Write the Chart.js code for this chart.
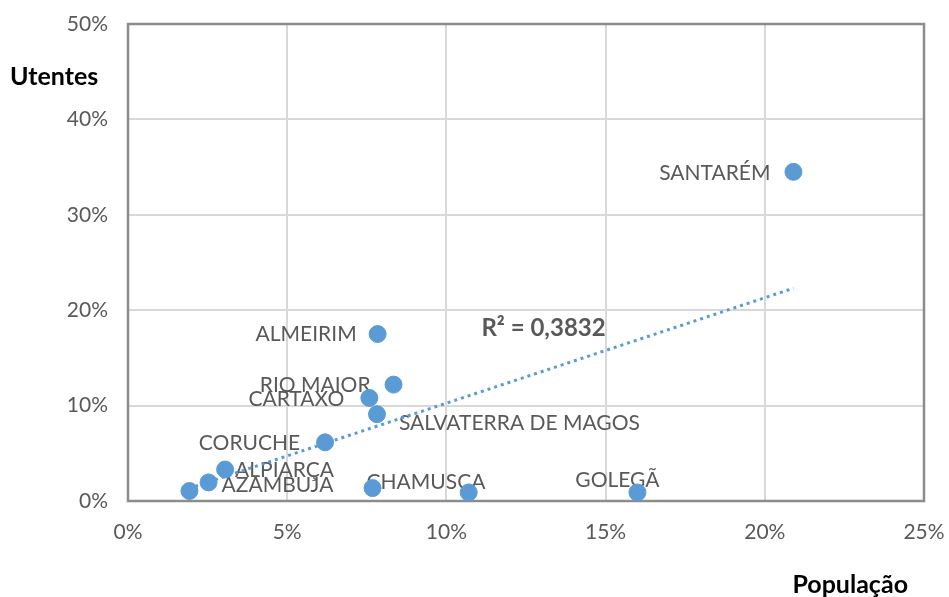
<!DOCTYPE html>
<html>
<head>
<meta charset="utf-8">
<script src="https://cdn.jsdelivr.net/npm/chart.js@4"></script>
<style>
  html, body { margin: 0; padding: 0; background: #fff; }
  #wrap { width: 949px; height: 597px; }
</style>
</head>
<body>
<div id="wrap"><canvas id="c" width="949" height="597"></canvas></div>
<script>
// ---- data (percent values) ----
const municipalities = ['SANTARÉM', 'ALMEIRIM', 'RIO MAIOR', 'CARTAXO', 'SALVATERRA DE MAGOS', 'CORUCHE', 'ALPIARÇA', 'AZAMBUJA', '', 'CHAMUSCA', '', 'GOLEGÃ'];
const populationPct = [20.9, 7.84, 8.34, 7.58, 7.82, 6.19, 3.05, 2.53, 1.93, 7.68, 10.70, 16.0];
const utentesPct = [34.5, 17.5, 12.2, 10.8, 9.1, 6.15, 3.3, 1.95, 1.05, 1.35, 0.9, 0.9];
const trendX = [1.9, 20.9];
const trendY = [1.3, 22.3];
const xTicks = [0, 5, 10, 15, 20, 25];
const yTicks = [0, 10, 20, 30, 40, 50];
const r2Text = 'R² = 0,3832';
const r2Pos = { x: 13.05, y: 18.1 };

// ---- label placement (style, not data) ----
const labelPlacement = {
  'SANTARÉM': { align: 'right', dx: -23, dy: 1 },
  'ALMEIRIM': { align: 'right', dx: -21, dy: 0 },
  'RIO MAIOR': { align: 'right', dx: -23, dy: 1 },
  'CARTAXO': { align: 'right', dx: -25, dy: 1 },
  'SALVATERRA DE MAGOS': { align: 'left', dx: 22, dy: 9 },
  'CORUCHE': { align: 'right', dx: -25, dy: 1 },
  'ALPIARÇA': { align: 'left', dx: 10, dy: 1 },
  'AZAMBUJA': { align: 'left', dx: 13, dy: 3 },
  'CHAMUSCA': { align: 'left', dx: -6, dy: -6 },
  'GOLEGÃ': { align: 'center', dx: -20, dy: -12 }
};

const FONT = 'Lato, "Open Sans", sans-serif';
const points = populationPct.map((x, i) => ({ x: x, y: utentesPct[i] }));
const trend = trendX.map((x, i) => ({ x: x, y: trendY[i] }));

const decorPlugin = {
  id: 'decor',
  beforeDatasetsDraw(chart) {
    const ctx = chart.ctx, a = chart.chartArea;
    ctx.save();
    ctx.strokeStyle = '#8c8c8c';
    ctx.lineWidth = 2.5;
    ctx.strokeRect(a.left, a.top, a.right - a.left, a.bottom - a.top);
    // point labels
    const meta = chart.getDatasetMeta(0);
    ctx.font = '21px ' + FONT;
    ctx.fillStyle = '#595959';
    ctx.textBaseline = 'middle';
    municipalities.forEach((name, i) => {
      const p = labelPlacement[name];
      if (!name || !p) return;
      const el = meta.data[i];
      ctx.textAlign = p.align;
      ctx.fillText(name, el.x + p.dx, el.y + p.dy);
    });
    // R² annotation
    const xs = chart.scales.x, ys = chart.scales.y;
    ctx.font = 'bold 24px ' + FONT;
    ctx.textAlign = 'center';
    ctx.fillText(r2Text, xs.getPixelForValue(r2Pos.x), ys.getPixelForValue(r2Pos.y));
    ctx.restore();
  },
  afterDraw(chart) {
    const ctx = chart.ctx;
    ctx.save();
    ctx.font = 'bold 25px ' + FONT;
    ctx.fillStyle = '#000';
    ctx.textBaseline = 'middle';
    ctx.textAlign = 'left';
    ctx.fillText('Utentes', 10, 77);
    ctx.textAlign = 'right';
    ctx.fillText('População', 908, 585);
    ctx.restore();
  }
};

new Chart(document.getElementById('c'), {
  type: 'scatter',
  data: {
    datasets: [
      {
        label: 'Municípios',
        data: points,
        backgroundColor: '#5b9bd5',
        borderColor: '#5b9bd5',
        pointRadius: 8.5,
        pointHoverRadius: 8.5,
        order: 0
      },
      {
        label: 'Tendência',
        type: 'line',
        data: trend,
        borderColor: '#5b9bd5',
        borderWidth: 3,
        borderDash: [3, 4],
        pointRadius: 0,
        fill: false,
        tension: 0,
        order: 1
      }
    ]
  },
  options: {
    responsive: false,
    animation: false,
    devicePixelRatio: 1,
    layout: { autoPadding: false, padding: { top: 24, right: 25, left: 0, bottom: 0 } },
    plugins: { legend: { display: false }, tooltip: { enabled: false } },
    scales: {
      x: {
        type: 'linear', min: 0, max: 25,
        afterBuildTicks(s) { s.ticks = xTicks.map(v => ({ value: v })); },
        afterFit(s) { s.height = 96; s.paddingLeft = 0; s.paddingRight = 0; },
        border: { display: false },
        grid: { color: '#d9d9d9', lineWidth: 2, drawTicks: false },
        ticks: { padding: 19, color: '#595959', font: { family: FONT, size: 21 }, callback: v => v + '%' }
      },
      y: {
        type: 'linear', min: 0, max: 50,
        afterBuildTicks(s) { s.ticks = yTicks.map(v => ({ value: v })); },
        afterFit(s) { s.width = 128; s.paddingTop = 0; s.paddingBottom = 0; },
        border: { display: false },
        grid: { color: '#d9d9d9', lineWidth: 2, drawTicks: false },
        ticks: { padding: 20, color: '#595959', font: { family: FONT, size: 21 }, callback: v => v + '%' }
      }
    }
  },
  plugins: [decorPlugin]
});
</script>
</body>
</html>
